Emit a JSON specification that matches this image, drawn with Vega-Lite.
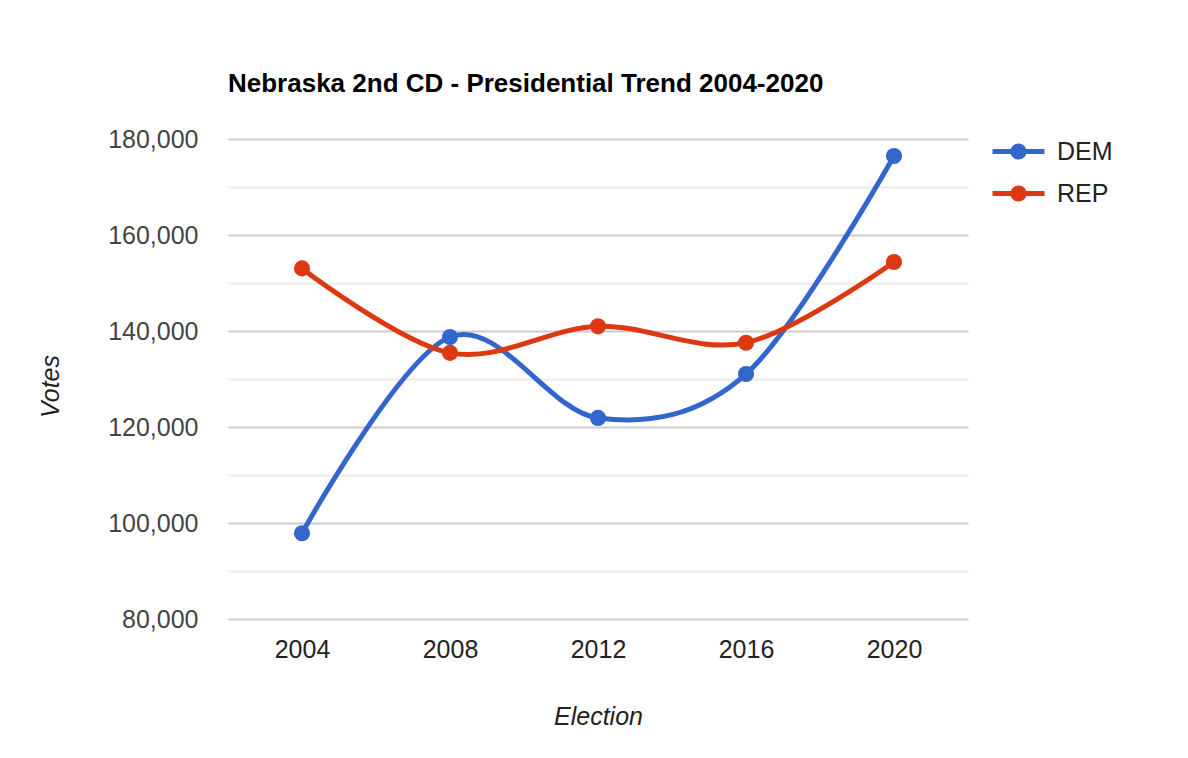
{
  "$schema": "https://vega.github.io/schema/vega-lite/v6.json",
  "width": 740,
  "height": 480,
  "autosize": {"type": "none"},
  "padding": {"left": 228, "top": 139, "right": 220, "bottom": 139},
  "background": "white",
  "config": {"font": "Liberation Sans", "view": {"stroke": null}},
  "title": {
    "text": "Nebraska 2nd CD - Presidential Trend 2004-2020",
    "anchor": "start",
    "frame": "group",
    "fontSize": 26,
    "fontWeight": "bold",
    "color": "#000000",
    "offset": 30,
    "font": "Liberation Sans"
  },
  "data": {
    "values": [
      {"year": "2004", "party": "DEM", "votes": 97858},
      {"year": "2008", "party": "DEM", "votes": 138752},
      {"year": "2012", "party": "DEM", "votes": 121889},
      {"year": "2016", "party": "DEM", "votes": 131030},
      {"year": "2020", "party": "DEM", "votes": 176468},
      {"year": "2004", "party": "REP", "votes": 153041},
      {"year": "2008", "party": "REP", "votes": 135439},
      {"year": "2012", "party": "REP", "votes": 140976},
      {"year": "2016", "party": "REP", "votes": 137564},
      {"year": "2020", "party": "REP", "votes": 154377}
    ]
  },
  "encoding": {
    "x": {
      "field": "year",
      "type": "ordinal",
      "scale": {"type": "point", "padding": 0.5},
      "axis": {
        "labelAngle": 0,
        "labelFontSize": 25,
        "labelColor": "#222222",
        "labelPadding": 18,
        "ticks": false,
        "domain": false,
        "grid": false,
        "title": "Election",
        "titleFontSize": 25,
        "titleFontStyle": "italic",
        "titleFontWeight": "normal",
        "titleColor": "#222222",
        "titleY": 97,
        "titleBaseline": "middle"
      }
    },
    "y": {
      "field": "votes",
      "type": "quantitative",
      "scale": {"domain": [80000, 180000], "nice": false, "zero": false},
      "axis": {
        "values": [80000, 90000, 100000, 110000, 120000, 130000, 140000, 150000, 160000, 170000, 180000],
        "labelExpr": "datum.value % 20000 === 0 ? format(datum.value, ',') : ''",
        "labelFontSize": 25,
        "labelColor": "#444444",
        "labelPadding": 30,
        "ticks": false,
        "domain": false,
        "grid": true,
        "gridWidth": 2,
        "gridColor": {"condition": {"test": "datum.value % 20000 === 0", "value": "#cccccc"}, "value": "#ebebeb"},
        "title": "Votes",
        "titleFontSize": 25,
        "titleFontStyle": "italic",
        "titleFontWeight": "normal",
        "titleColor": "#222222",
        "titleX": -178,
        "titleY": 247,
        "titleBaseline": "middle"
      }
    },
    "color": {
      "field": "party",
      "type": "nominal",
      "scale": {"domain": ["DEM", "REP"], "range": ["#3366cc", "#dc3912"]},
      "legend": {
        "orient": "none",
        "legendX": 778,
        "legendY": 0,
        "title": null,
        "padding": 0,
        "symbolType": "M-3.25,0L3.25,0M-0.7,0A0.7,0.7,0,1,0,0.7,0A0.7,0.7,0,1,0,-0.7,0",
        "symbolSize": 256,
        "symbolStrokeWidth": 5,
        "symbolOpacity": 1,
        "labelFontSize": 25,
        "labelColor": "#222222",
        "labelOffset": 26,
        "rowPadding": 9,
        "encode": {
          "symbols": {
            "update": {
              "fill": {"scale": "color", "field": "value"},
              "stroke": {"scale": "color", "field": "value"},
              "strokeWidth": {"value": 5},
              "opacity": {"value": 1}
            }
          }
        }
      }
    }
  },
  "layer": [
    {"mark": {"type": "line", "interpolate": "cardinal", "strokeWidth": 5}},
    {"mark": {"type": "point", "filled": true, "size": 260, "opacity": 1}}
  ]
}
